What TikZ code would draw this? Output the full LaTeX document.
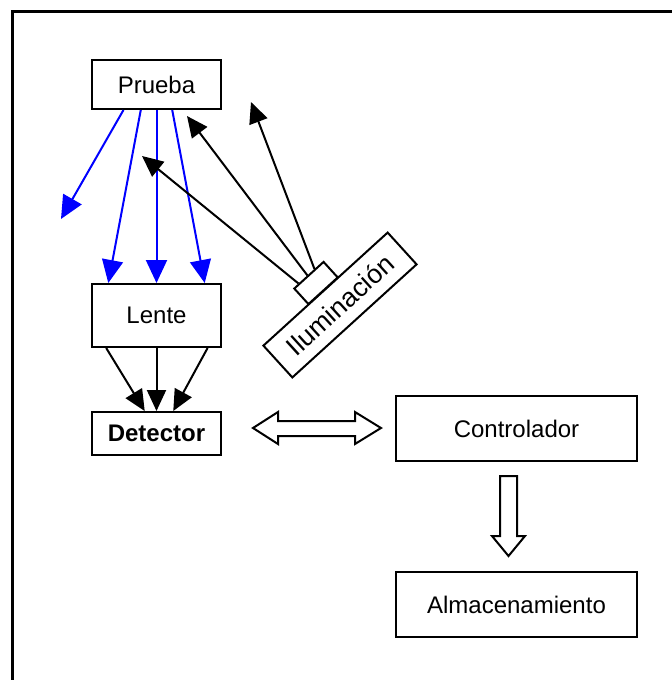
\documentclass[tikz,border=0pt]{standalone}
\usepackage{fontspec}
\setmainfont{Liberation Sans}
\usetikzlibrary{arrows.meta,calc}
\begin{document}
\begin{tikzpicture}[x=0.5pt,y=-0.5pt,
  font=\fontsize{12}{14}\selectfont,
  box/.style={draw,line width=1pt,inner sep=0pt,fill=white},
  bluearr/.style={draw=blue,line width=1pt,-{Triangle[length=11.5pt,width=10.5pt]},fill=blue},
  blackarr/.style={draw=black,line width=1pt,-{Triangle[length=10.5pt,width=9.5pt]}},
  blockarr/.style={draw,line width=1pt,fill=white,line join=miter}
]
\useasboundingbox (0,0) rectangle (671,680);
\draw[line width=1.5pt] (12,681) -- (12,11.5) -- (672,11.5);

\node[box,minimum width=64.5pt,minimum height=24.5pt] (prueba) at (156.5,84.5) {Prueba};
\node[box,minimum width=64.5pt,minimum height=31.5pt] (lente) at (156.5,315.5) {Lente};
\node[box,minimum width=64.5pt,minimum height=21.5pt,font=\fontsize{12}{14}\selectfont\bfseries] (detector) at (156.5,433.5) {Detector};
\node[box,minimum width=120.5pt,minimum height=32.5pt] (ctrl) at (516.5,428.5) {Controlador};
\node[box,minimum width=120.5pt,minimum height=32.5pt] (alm) at (516.5,604.5) {Almacenamiento};

\node[box,rotate=42.3,minimum width=84pt,minimum height=21.5pt,font=\fontsize{13.3}{15}\selectfont] (illum) at (340,305) {Iluminación};
\node[box,rotate=42.3,minimum width=19.8pt,minimum height=10.5pt] (lamp) at (316,283) {};

% blue rays
\coordinate (bfree) at (61,219);
\draw[bluearr] ($(prueba.south west)!0.248!(prueba.south east)$) -- (bfree);
\draw[bluearr] ($(prueba.south west)!0.38!(prueba.south east)$) -- ($(lente.north west)!0.132!(lente.north east)$);
\draw[bluearr] (prueba.south) -- (lente.north);
\draw[bluearr] ($(prueba.south west)!0.62!(prueba.south east)$) -- ($(lente.north west)!0.868!(lente.north east)$);

% lens to detector
\draw[blackarr] ($(lente.south west)!0.116!(lente.south east)$) -- ($(detector.north west)!0.41!(detector.north east)$);
\draw[blackarr] (lente.south) -- (detector.north);
\draw[blackarr] ($(lente.south west)!0.89!(lente.south east)$) -- ($(detector.north west)!0.628!(detector.north east)$);

% illumination rays
\coordinate (t1) at (142,156);
\coordinate (t2) at (187,116);
\coordinate (t3) at (251,102);
\draw[blackarr] ($(lamp.north west)!0.18!(lamp.north east)$) -- (t1);
\draw[blackarr] ($(lamp.north west)!0.47!(lamp.north east)$) -- (t2);
\draw[blackarr] ($(lamp.north west)!0.70!(lamp.north east)$) -- (t3);

% double block arrow
\draw[blockarr] (253,428) -- (278,412) -- (278,421) -- (355,421) -- (355,412) -- (381,428)
  -- (355,444) -- (355,436) -- (278,436) -- (278,444) -- cycle;
% down block arrow
\draw[blockarr] (500,476) -- (517,476) -- (517,536) -- (525,536) -- (508.5,556) -- (492,536) -- (500,536) -- cycle;
\end{tikzpicture}
\end{document}
